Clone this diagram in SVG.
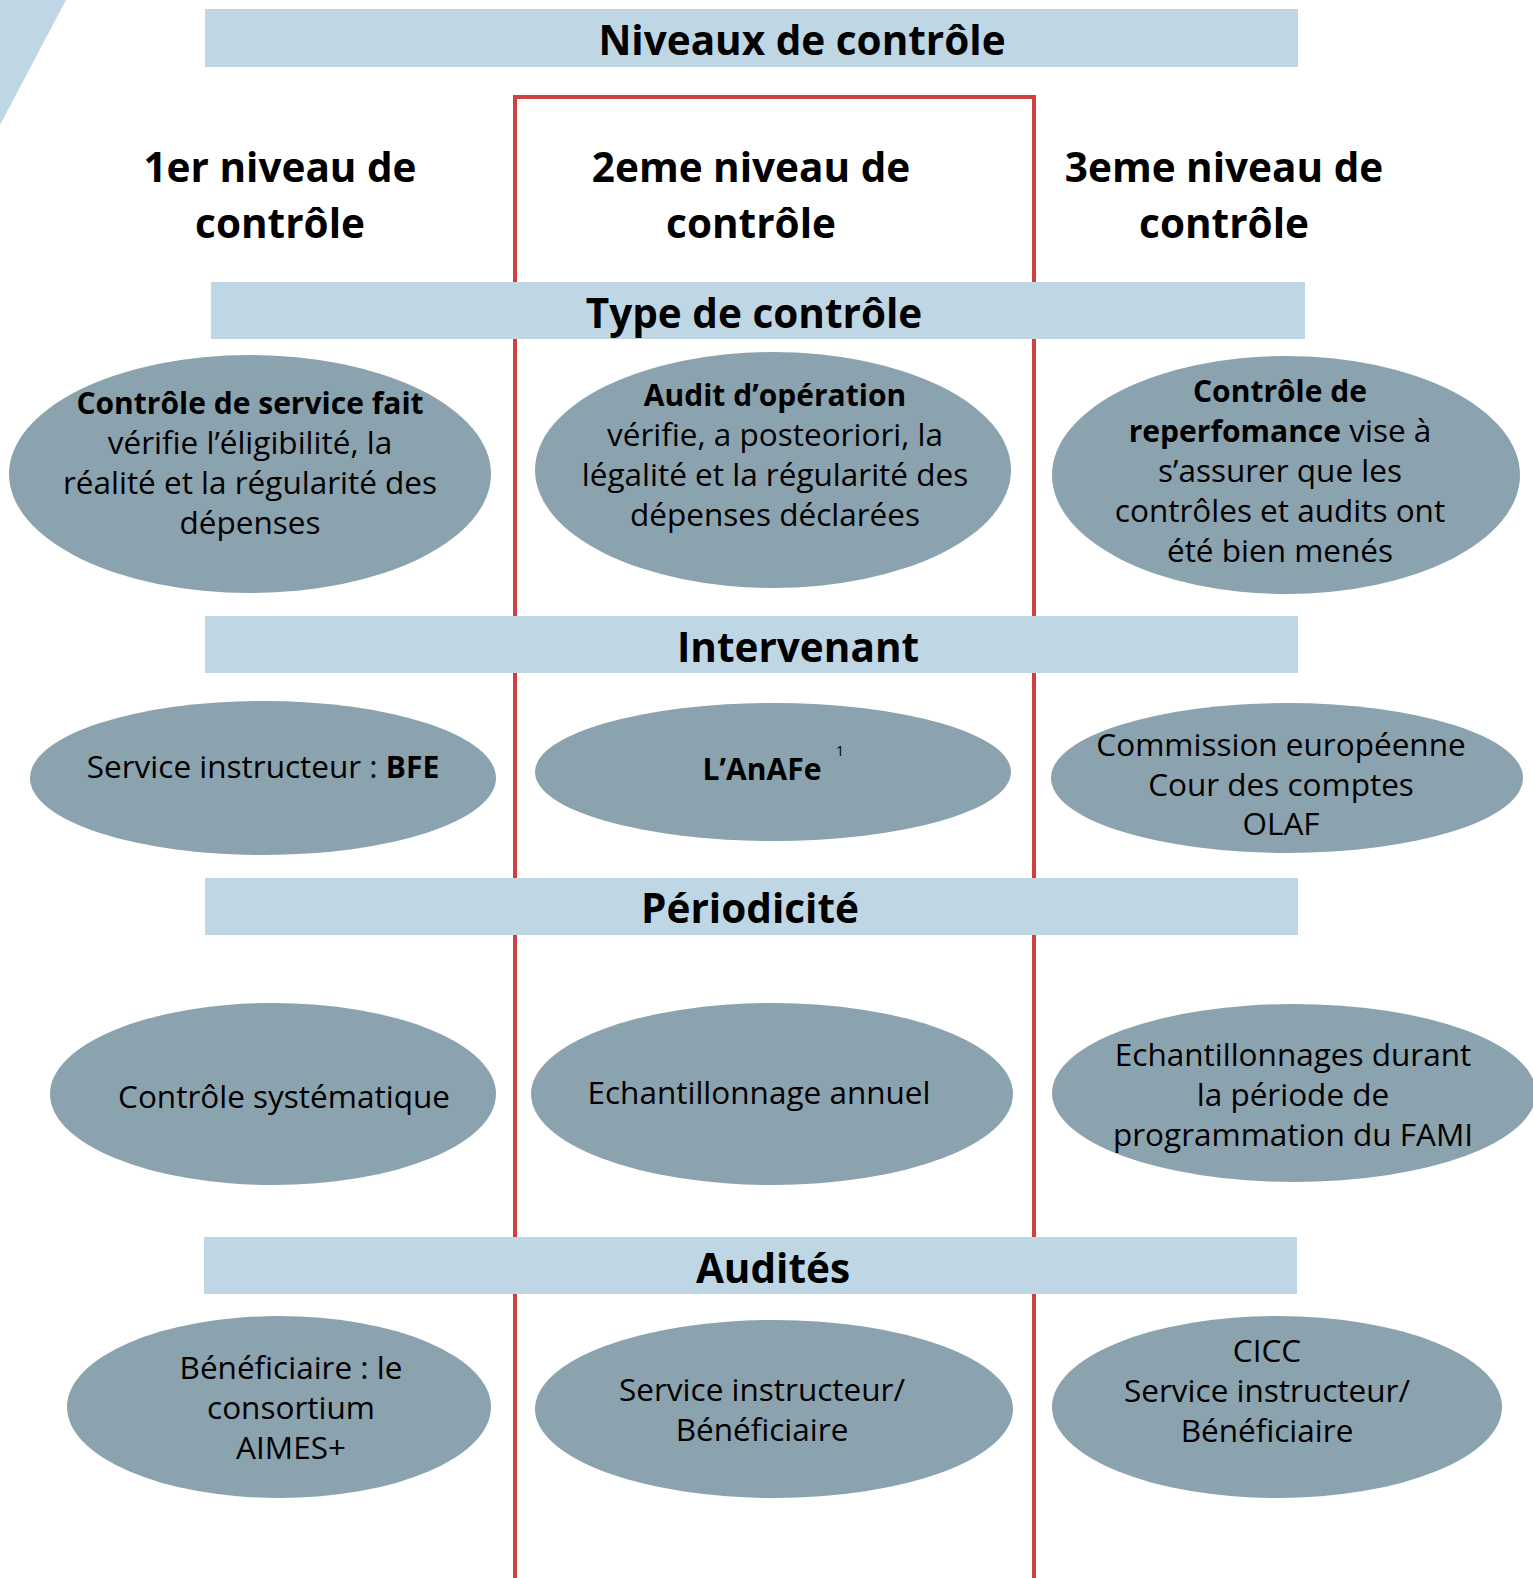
<svg xmlns="http://www.w3.org/2000/svg" width="1533" height="1578" viewBox="0 0 1533 1578">
<style>
.bar{fill:#bfd7e4}
.ell{fill:#8ba2af}
.h{font-family:"Open Sans","Liberation Sans",sans-serif;font-weight:700;font-size:40.5px;fill:#000;text-anchor:middle}
.t{font-family:"Open Sans","Liberation Sans",sans-serif;font-weight:400;font-size:31.5px;fill:#000;text-anchor:middle}
.b{font-weight:700;font-size:30px}
.sup{font-family:"Open Sans","Liberation Sans",sans-serif;font-size:14px;fill:#000}
</style>
<rect width="1533" height="1578" fill="#fff"/>
<polygon points="0,0 66,0 0,125" fill="#bfd7e4"/>
<rect id="frame" x="515" y="97" width="519" height="1500" fill="none" stroke="#cf4040" stroke-width="4"/>

<g id="connectors"/>

<g id="title"><rect class="bar" x="205" y="9" width="1093" height="58"/><text class="h" x="802" y="55">Niveaux de contrôle</text></g>

<g id="col1"><text class="h" x="280" y="182">1er niveau de</text><text class="h" x="280" y="238">contrôle</text></g>
<g id="col2"><text class="h" x="751" y="182">2eme niveau de</text><text class="h" x="751" y="238">contrôle</text></g>
<g id="col3"><text class="h" x="1224" y="182">3eme niveau de</text><text class="h" x="1224" y="238">contrôle</text></g>

<g id="bar-type"><rect class="bar" x="211" y="282" width="1094" height="57"/><text class="h" x="754" y="328">Type de contrôle</text></g>

<g id="type-1"><ellipse class="ell" cx="250" cy="474" rx="241" ry="119"/>
<text class="t" x="250" y="414"><tspan class="b">Contrôle de service fait</tspan></text>
<text class="t" x="250" y="454">vérifie l’éligibilité, la</text>
<text class="t" x="250" y="494">réalité et la régularité des</text>
<text class="t" x="250" y="534">dépenses</text></g>

<g id="type-2"><ellipse class="ell" cx="773" cy="470" rx="238" ry="118"/>
<text class="t" x="775" y="406"><tspan class="b">Audit d’opération</tspan></text>
<text class="t" x="775" y="446">vérifie, a posteoriori, la</text>
<text class="t" x="775" y="486">légalité et la régularité des</text>
<text class="t" x="775" y="526">dépenses déclarées</text></g>

<g id="type-3"><ellipse class="ell" cx="1286" cy="475" rx="234" ry="119"/>
<text class="t" x="1280" y="402"><tspan class="b">Contrôle de</tspan></text>
<text class="t" x="1280" y="442"><tspan class="b">reperfomance</tspan> vise à</text>
<text class="t" x="1280" y="482">s’assurer que les</text>
<text class="t" x="1280" y="522">contrôles et audits ont</text>
<text class="t" x="1280" y="562">été bien menés</text></g>

<g id="bar-intervenant"><rect class="bar" x="205" y="616" width="1093" height="57"/><text class="h" x="798" y="662">Intervenant</text></g>

<g id="int-1"><ellipse class="ell" cx="263" cy="778" rx="233" ry="77"/>
<text class="t" x="263" y="778">Service instructeur : <tspan class="b">BFE</tspan></text></g>

<g id="int-2"><ellipse class="ell" cx="773" cy="772" rx="238" ry="69"/>
<text class="t" x="762" y="780"><tspan class="b">L’AnAFe</tspan></text>
<text class="sup" x="836" y="756">1</text></g>

<g id="int-3"><ellipse class="ell" cx="1287" cy="778" rx="236" ry="75"/>
<text class="t" x="1281" y="756">Commission européenne</text>
<text class="t" x="1281" y="796">Cour des comptes</text>
<text class="t" x="1281" y="835">OLAF</text></g>

<g id="bar-periodicite"><rect class="bar" x="205" y="878" width="1093" height="57"/><text class="h" x="750" y="923">Périodicité</text></g>

<g id="per-1"><ellipse class="ell" cx="273" cy="1094" rx="223" ry="91"/>
<text class="t" x="284" y="1108">Contrôle systématique</text></g>

<g id="per-2"><ellipse class="ell" cx="772" cy="1094" rx="241" ry="91"/>
<text class="t" x="759" y="1104">Echantillonnage annuel</text></g>

<g id="per-3"><ellipse class="ell" cx="1294" cy="1093" rx="242" ry="89"/>
<text class="t" x="1293" y="1066">Echantillonnages durant</text>
<text class="t" x="1293" y="1106">la période de</text>
<text class="t" x="1293" y="1146">programmation du FAMI</text></g>

<g id="bar-audites"><rect class="bar" x="204" y="1237" width="1093" height="57"/><text class="h" x="773" y="1283">Audités</text></g>

<g id="aud-1"><ellipse class="ell" cx="279" cy="1407" rx="212" ry="91"/>
<text class="t" x="291" y="1379">Bénéficiaire : le</text>
<text class="t" x="291" y="1419">consortium</text>
<text class="t" x="291" y="1459">AIMES+</text></g>

<g id="aud-2"><ellipse class="ell" cx="774" cy="1409" rx="239" ry="89"/>
<text class="t" x="762" y="1401">Service instructeur/</text>
<text class="t" x="762" y="1441">Bénéficiaire</text></g>

<g id="aud-3"><ellipse class="ell" cx="1277" cy="1407" rx="225" ry="91"/>
<text class="t" x="1267" y="1362">CICC</text>
<text class="t" x="1267" y="1402">Service instructeur/</text>
<text class="t" x="1267" y="1442">Bénéficiaire</text></g>
</svg>
